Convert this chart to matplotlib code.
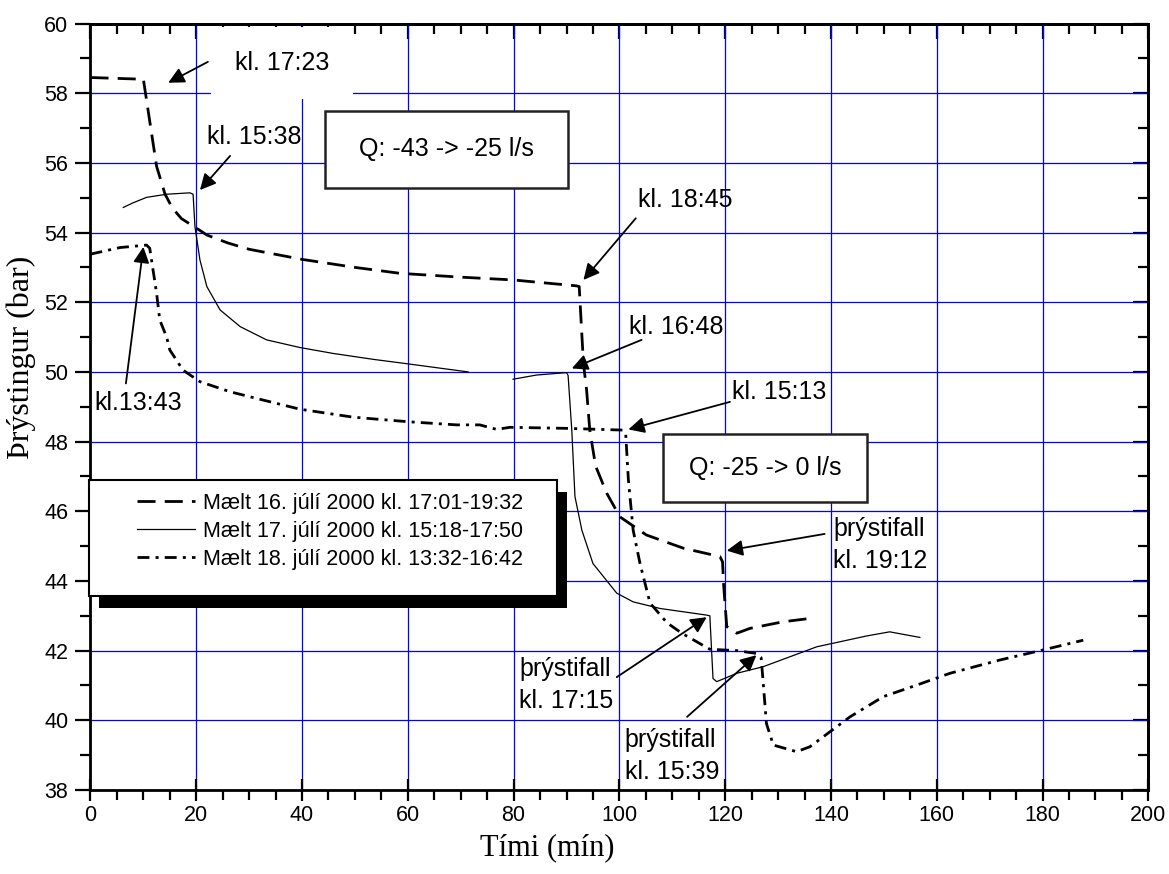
import numpy as np
import matplotlib.pyplot as plt
from matplotlib.patches import Rectangle
from matplotlib.ticker import MultipleLocator

plt.rcParams['font.family'] = ['Liberation Sans', 'DejaVu Sans']

# Mælt 16. júlí 2000 kl. 17:01-19:32
t16 = [0, 10.0, 10.6, 12.5, 14.1, 15.5, 17.2, 20.1, 22.0, 26, 30, 40, 50, 58.5, 70,
       79.9, 91.9, 92.4, 93.2, 93.8, 94.4, 95.5, 97.6, 100.1, 105.1, 112.1, 119.0,
       119.5, 119.7, 120.3, 122.2, 124.7, 131, 136.3]
p16 = [58.45, 58.4, 57.8, 55.9, 55.1, 54.7, 54.4, 54.12, 53.93, 53.7, 53.52, 53.23,
       53.0, 52.83, 52.72, 52.64, 52.47, 52.45, 50.25, 49.48, 48.33, 47.3, 46.52,
       45.84, 45.32, 44.94, 44.7, 44.55, 43.9, 42.69, 42.5, 42.64, 42.83, 42.93]

# Mælt 17. júlí 2000 kl. 15:18-17:50 (gap in logging around 72-80 min)
t17 = [6.2, 8, 10.6, 14.4, 18.8, 19.4, 19.75, 20.7, 22.0, 24.5, 28.3, 33.3, 39.6,
       45.9, 53.5, 60.1, 71.4, np.nan,
       79.9, 84.3, 90.0, 90.3, 91.0, 91.6, 92.9, 95.0, 99.5, 102.6, 107.7, 116.5,
       117.1, 117.7, 118.4, 122.2, 127.2, 137.3, 146.7, 151.1, 156.8]
p17 = [54.72, 54.85, 55.01, 55.1, 55.14, 55.1, 54.17, 53.21, 52.45, 51.78, 51.3,
       50.92, 50.7, 50.53, 50.36, 50.23, 50.0, np.nan,
       49.79, 49.91, 49.98, 49.9, 48.33, 46.42, 45.46, 44.5, 43.65, 43.4, 43.21,
       43.02, 43.0, 41.2, 41.11, 41.35, 41.54, 42.11, 42.42, 42.54, 42.38]

# Mælt 18. júlí 2000 kl. 13:32-16:42
t18 = [0, 5.6, 10.6, 11.2, 12.5, 13.1, 14.4, 15.0, 17.5, 20.7, 26.4, 32.7, 39.6,
       49.7, 60.1, 69.2, 73.6, 76.8, 79.3, 90.0, 100.7, 101.2, 101.7, 102.6, 103.9,
       105.8, 106.4, 109.0, 111.8, 117.1, 122.2, 125.9, 126.8, 127.2, 127.8, 129.1,
       133.5, 136.0, 143.6, 149.9, 156.2, 162.5, 171.9, 180.1, 187.7]
p18 = [53.38, 53.57, 53.64, 53.55, 52.26, 51.49, 51.0, 50.63, 50.05, 49.72, 49.43,
       49.19, 48.93, 48.7, 48.57, 48.48, 48.48, 48.35, 48.41, 48.38, 48.33, 48.2,
       46.9, 45.46, 44.5, 43.36, 43.26, 42.8, 42.5, 42.04, 42.0, 41.92, 41.8, 41.06,
       39.91, 39.29, 39.1, 39.24, 40.1, 40.68, 41.01, 41.35, 41.73, 42.02, 42.3]

labels = ['Mælt 16. júlí 2000 kl. 17:01-19:32',
          'Mælt 17. júlí 2000 kl. 15:18-17:50',
          'Mælt 18. júlí 2000 kl. 13:32-16:42']

# arrow notes: text, text anchor (left, middle), arrow tail, arrow tip
notes = [
    ('kl. 17:23', (27.3, 58.87), (22.2, 58.9), (14.7, 58.3)),
    ('kl. 15:38', (22.0, 56.75), (26.4, 56.2), (20.7, 55.22)),
    ('kl. 18:45', (103.6, 54.93), (103.1, 54.41), (93.2, 52.64)),
    ('kl. 16:48', (101.8, 51.28), (104.2, 50.92), (91.0, 50.1)),
    ('kl. 15:13', (121.3, 49.43), (120.9, 49.14), (101.7, 48.35)),
    ('þrýstifall\nkl. 19:12', (140.4, 45.03), (138.8, 45.35), (120.3, 44.87)),
    ('þrýstifall\nkl. 17:15', (81.1, 41.01), (99.5, 41.24), (116.5, 42.96)),
    ('þrýstifall\nkl. 15:39', (101.0, 38.98), (112.8, 40.1), (125.9, 41.87)),
    ('kl.13:43', (0.66, 49.1), (6.7, 49.67), (10.0, 53.59)),
]

# flow step boxes: text, x0, x1, y0, y1
qboxes = [
    ('Q: -43 -> -25 l/s', 44.3, 90.3, 55.28, 57.5),
    ('Q: -25 -> 0 l/s', 108.3, 146.9, 46.27, 48.21),
]

fig = plt.figure(figsize=(11.69, 8.74), dpi=100)
ax = fig.add_axes([0.0774, 0.0961, 0.9049, 0.8770])
ax.set_xlim(0, 200)
ax.set_ylim(38, 60)
ax.set_xticks(range(0, 201, 20))
ax.set_yticks(range(38, 61, 2))
ax.xaxis.set_minor_locator(MultipleLocator(5))
ax.yaxis.set_minor_locator(MultipleLocator(1))
ax.grid(True, which='major', color='#0000ff', lw=0.9)
ax.set_axisbelow(True)

for s in ax.spines.values():
    s.set_linewidth(2.0)

ax.tick_params(axis='x', which='major', direction='inout', length=16, width=1.6,
               labelsize=15.5, pad=3)
ax.tick_params(axis='x', which='minor', direction='out', length=7, width=1.6)
ax.tick_params(axis='y', which='major', direction='out', length=11, width=1.6,
               labelsize=15.5, pad=5)
ax.tick_params(axis='y', which='minor', direction='out', length=7, width=1.6)

top = ax.secondary_xaxis('top')
top.set_xticks(range(0, 201, 20))
top.xaxis.set_minor_locator(MultipleLocator(5))
top.tick_params(which='major', direction='in', length=11, width=1.6, labeltop=False)
top.tick_params(which='minor', direction='in', length=7, width=1.6)
right = ax.secondary_yaxis('right')
right.set_yticks(range(38, 61, 2))
right.yaxis.set_minor_locator(MultipleLocator(1))
right.tick_params(which='major', direction='in', length=11, width=1.6, labelright=False)
right.tick_params(which='minor', direction='in', length=7, width=1.6)
for sec in (top, right):
    for s in sec.spines.values():
        s.set_linewidth(2.0)

l16, = ax.plot(t16, p16, color='black', lw=2.0, dashes=(6.5, 3.3), label=labels[0], zorder=3)
l17, = ax.plot(t17, p17, color='black', lw=0.9, label=labels[1], zorder=3)
l18, = ax.plot(t18, p18, color='black', lw=2.0, dashes=(4.3, 2.2, 1.1, 2.2),
               label=labels[2], zorder=3)

for txt, (tx, ty), tail, tip in notes:
    ax.annotate('', xy=tip, xytext=tail,
                arrowprops=dict(arrowstyle='-|>', mutation_scale=24, lw=1.3,
                                color='black', shrinkA=0, shrinkB=0), zorder=6)
    kw = {}
    if txt == 'kl. 17:23':
        kw['bbox'] = dict(boxstyle='square,pad=0.95', fc='white', ec='none')
    ax.text(tx, ty, txt, fontsize=18, ha='left', va='center', linespacing=1.45,
            zorder=5, **kw)

for txt, x0, x1, y0, y1 in qboxes:
    ax.add_patch(Rectangle((x0, y0), x1 - x0, y1 - y0, fc='white', ec='#222222',
                           lw=1.8, zorder=4))
    ax.text((x0 + x1) / 2, (y0 + y1) / 2, txt, fontsize=18, ha='center',
            va='center', zorder=5)

# legend with a hard black drop shadow
ax.add_patch(Rectangle((-0.0011 + 0.00945, 0.2531 - 0.01566), 0.4419, 0.1513,
                       transform=ax.transAxes, fc='black', ec='black', lw=0,
                       zorder=6, clip_on=False))
ax.add_patch(Rectangle((-0.0011, 0.2531), 0.4419, 0.1513, transform=ax.transAxes,
                       fc='white', ec='black', lw=1.5, zorder=6.5, clip_on=False))
leg = ax.legend(handles=[l16, l17, l18], loc='upper left',
                bbox_to_anchor=(0.0437, 0.3881), frameon=False, borderpad=0,
                borderaxespad=0, handlelength=2.7, handletextpad=0.36,
                labelspacing=0.33, fontsize=15.5)
leg.set_zorder(7)

fig.text(21 / 1169, 1 - 357 / 874, 'Þrýstingur (bar)', rotation=90, ha='center',
         va='center', fontsize=23, family=['Liberation Serif', 'DejaVu Serif'])
fig.text(547 / 1169, 1 - 848 / 874, 'Tími (mín)', ha='center', va='center',
         fontsize=22, family=['Liberation Serif', 'DejaVu Serif'])

fig.savefig('out.png', dpi=100)
